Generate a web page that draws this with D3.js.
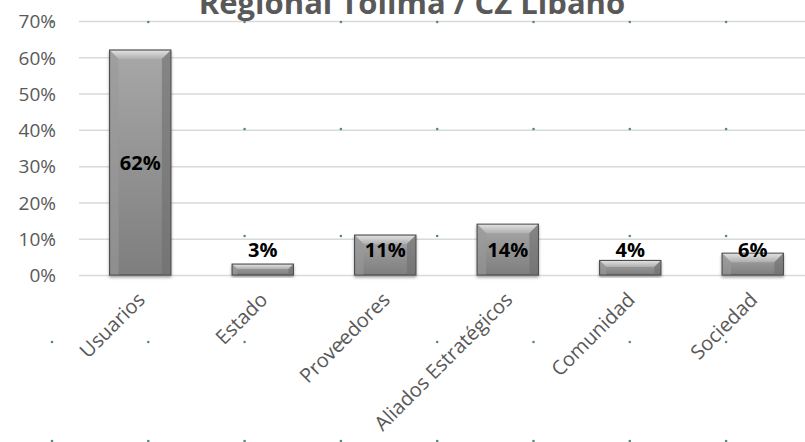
<!DOCTYPE html>
<html><head><meta charset="utf-8">
<script src="https://cdn.jsdelivr.net/npm/d3@7/dist/d3.min.js"></script>
<style>body{margin:0;background:#fff}svg{display:block}</style>
</head><body>
<svg id="c" width="805" height="442"></svg>
<script>
const title = "Regional Tolima / CZ Libano";
const categories = ["Usuarios","Estado","Proveedores","Aliados Estratégicos","Comunidad","Sociedad"];
const values = [0.62,0.03,0.11,0.14,0.04,0.06];
const yTicks = [0,0.1,0.2,0.3,0.4,0.5,0.6,0.7];

const svg = d3.select("#c");
const W = 805, H = 442;
const x = d3.scaleBand().domain(categories).range([79, 814]).paddingInner(0.5).paddingOuter(0.25);
const y = d3.scaleLinear().domain([0,0.7]).range([275, 21]);
const font = "'Open Sans', 'DejaVu Sans', sans-serif";

const defs = svg.append("defs");
const g1 = defs.append("linearGradient").attr("id","bg").attr("x1",0).attr("y1",0).attr("x2",0).attr("y2",1);
g1.append("stop").attr("offset","0%").attr("stop-color","#a8a8a8");
g1.append("stop").attr("offset","100%").attr("stop-color","#7e7e7e");
const g2 = defs.append("linearGradient").attr("id","bev").attr("x1",0).attr("y1",0).attr("x2",0).attr("y2",1);
g2.append("stop").attr("offset","0%").attr("stop-color","#e6e6e6");
g2.append("stop").attr("offset","100%").attr("stop-color","#b0b0b0");
const sh = defs.append("filter").attr("id","sh").attr("x","-20%").attr("y","-20%").attr("width","140%").attr("height","140%");
sh.append("feGaussianBlur").attr("in","SourceAlpha").attr("stdDeviation",1.5);
sh.append("feOffset").attr("dx",0).attr("dy",2).attr("result","o");
sh.append("feComponentTransfer").append("feFuncA").attr("type","linear").attr("slope",0.35);
const mg = sh.append("feMerge"); mg.append("feMergeNode"); mg.append("feMergeNode").attr("in","SourceGraphic");

// gridlines + y axis
const yAxis = d3.axisLeft(y).tickValues(yTicks).tickSize(-(W - 79)).tickFormat(d3.format(".0%"));
const ga = svg.append("g").attr("transform","translate(79,0)").call(yAxis);
ga.select(".domain").remove();
ga.selectAll(".tick line").attr("stroke","#d9d9d9").attr("stroke-width",1.5);
ga.selectAll(".tick text").attr("x",-23).attr("font-family",font).attr("font-size",19).attr("fill","#595959").attr("dy","0.36em");

// decorative dots
const dotXs = d3.range(52, 805, 96.3);
const dotYs = [22,129,236,342,441];
const dots = svg.append("g");
dotYs.forEach(dy=>dotXs.forEach(dx=>{
  dots.append("circle").attr("cx",dx).attr("cy",dy).attr("r",1.3).attr("fill","#4f8f70");
}));

// bars
const bars = svg.append("g");
categories.forEach((c,i)=>{
  const v = values[i];
  const x0 = x(c), bw = x.bandwidth(), y0 = y(v), h = y(0)-y(v);
  const b = bars.append("g");
  b.append("rect").attr("x",x0).attr("y",y0).attr("width",bw).attr("height",h)
    .attr("fill","url(#bg)").attr("stroke","#4d4d4d").attr("stroke-width",1.2).attr("filter","url(#sh)");
  const bv = Math.min(9, h/2.2);
  b.append("path").attr("d",`M${x0+0.6},${y0+0.6}L${x0+bw-0.6},${y0+0.6}L${x0+bw-bv},${y0+bv}L${x0+bv},${y0+bv}Z`)
    .attr("fill","url(#bev)").attr("opacity",0.9);
  b.append("path").attr("d",`M${x0+0.6},${y0+0.6}L${x0+bv},${y0+bv}L${x0+bv},${y0+h-0.6}L${x0+0.6},${y0+h-0.6}Z`)
    .attr("fill","#9a9a9a").attr("opacity",0.6);
  b.append("path").attr("d",`M${x0+bw-0.6},${y0+0.6}L${x0+bw-bv},${y0+bv}L${x0+bw-bv},${y0+h-0.6}L${x0+bw-0.6},${y0+h-0.6}Z`)
    .attr("fill","#6e6e6e").attr("opacity",0.6);
  const ly = Math.min((y0+y(0))/2, y(0)-25);
  b.append("text").attr("x",x0+bw/2).attr("y",ly).attr("dy","0.36em").attr("text-anchor","middle")
    .attr("font-family",font).attr("font-weight","bold").attr("font-size",20).attr("fill","#000")
    .text(d3.format(".0%")(v));
});

// x labels
const xl = svg.append("g");
categories.forEach(c=>{
  const cx = x(c)+x.bandwidth()/2;
  xl.append("text").attr("transform",`translate(${cx+6},${301}) rotate(-45)`)
    .attr("text-anchor","end").attr("font-family",font).attr("font-size",20).attr("fill","#595959").text(c);
});

// title
svg.append("text").attr("x",412).attr("y",14).attr("text-anchor","middle")
  .attr("font-family",font).attr("font-weight","bold").attr("font-size",31).attr("fill","#595959").text(title);
</script>
</body></html>
